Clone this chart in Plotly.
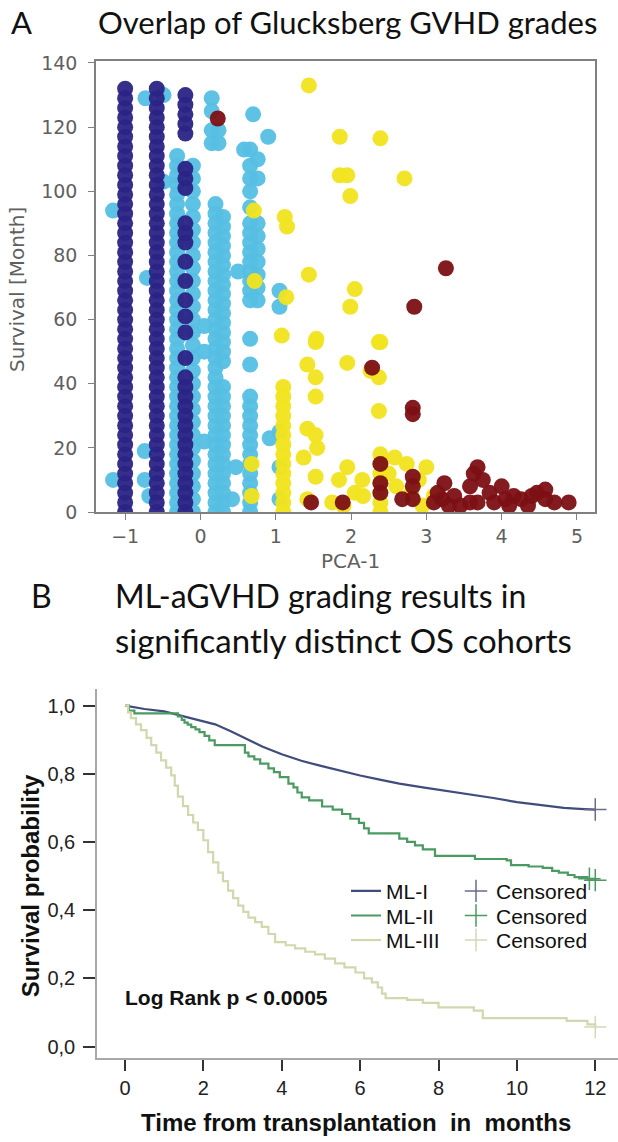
import plotly.graph_objects as go

W, H = 618, 1142

# ---------------- Panel A data (PCA-1 vs survival, by Glucksberg grade) ----------------
g1_cols_x = [-1.0, -0.58, -0.2]
g1_cols_y = [
    [0, 3, 6, 9, 12, 15, 18, 21, 24, 27, 30, 33, 36, 39, 42, 45, 48, 51, 54, 57, 60, 63, 66, 69, 72, 75, 78,
     81, 84, 87, 90, 93, 96, 99, 102, 105, 108, 111, 114, 117, 120, 123, 126, 129, 132],
    [0, 3, 6, 9, 12, 15, 18, 21, 24, 27, 30, 33, 36, 39, 42, 45, 48, 51, 54, 57, 60, 63, 66, 69, 72, 75, 78,
     81, 84, 87, 90, 93, 96, 99, 102, 105, 108, 111, 114, 117, 120, 123, 126, 129, 132],
    [0, 3, 6, 9, 12, 15, 18, 21, 24, 27, 30, 33, 36, 39, 42, 48, 56, 61, 66, 72, 78, 84, 87, 90, 101, 104,
     107, 118, 121, 124, 127, 130],
]

g2_cols_x = [-0.31, -0.1, 0.2, 0.3, 0.66, 0.76, 1.05]
g2_cols_y = [
    [0, 3, 6, 9, 12, 15, 18, 21, 24, 27, 30, 33, 36, 39, 42, 45, 48, 51, 54, 57, 60, 63, 66, 69, 72, 75, 78,
     81, 84, 87, 90, 93, 96, 99, 102, 105, 108, 111],
    [0, 4, 8, 12, 16, 20, 24, 28, 32, 36, 40, 44, 48, 52, 56, 60, 64, 68, 72, 76, 80, 84, 88, 92, 96, 100,
     104, 108],
    [0, 3, 6, 9, 12, 15, 18, 21, 24, 27, 30, 33, 36, 39, 42, 45, 48, 51, 54, 57, 60, 63, 66, 69, 72, 75, 78,
     81, 84, 87, 90, 93, 96],
    [0, 3, 6, 9, 12, 15, 18, 21, 24, 27, 30, 33, 36, 39, 47, 50, 53, 56, 59, 62, 65, 68, 71, 74, 77, 80, 83,
     86, 89, 92],
    [0, 3, 6, 9, 12, 15, 18, 21, 24, 27, 30, 33, 36, 46, 54, 66, 69, 72, 75, 78, 81, 84, 87, 90, 95, 100,
     104, 108, 113],
    [66, 70, 74, 78, 82, 86, 90, 104, 110],
    [4, 14, 25, 64, 69],
]
g2_extra_x = [-1.16, -1.16, -0.74, -0.74, -0.68, -0.71, -0.73, -0.49, -0.49, 0.15, 0.15, 0.15, 0.15, 0.24,
              0.24, 0.05, 0.05, 0.05, 0.47, 0.42, 0.92, 0.70, 0.90, 0.58, 0.5]
g2_extra_y = [94, 10, 19, 10, 5, 73, 129, 130, 103, 115, 119, 125, 129, 115, 119, 50, 22, 58, 14, 4, 23,
              124, 117, 113, 75]

g3_cols_x = [1.1, 2.39]
g3_cols_y = [
    [0, 3, 6, 9, 12, 15, 18, 21, 24, 27, 30, 33, 36, 39],
    [0, 3, 6, 9, 12, 15, 18],
]
g3_extra_x = [1.44, 1.85, 2.39, 1.85, 1.95, 2.71, 1.99, 1.44, 2.05, 1.99, 1.54, 2.39, 0.71, 0.72, 1.12,
              1.15, 1.14, 1.08, 1.42, 1.53, 1.53, 1.53, 1.42, 1.53, 1.37, 1.53, 1.42, 1.55, 1.95, 1.95,
              1.84, 2.05, 2.16, 2.37, 2.26, 2.37, 2.37, 2.58, 2.74, 3.0, 2.6, 2.8, 3.1, 2.95, 0.68, 0.68,
              1.9, 2.15, 1.75, 2.5, 2.9, 3.2]
g3_extra_y = [133, 117, 116.5, 105, 105, 104, 98.5, 74, 69.5, 64, 54, 53, 94, 72, 92, 89, 67, 55, 46, 53,
              42, 36, 26, 24, 17, 11, 4, 20, 46.5, 14, 10, 6, 5, 53, 44, 42, 31.5, 17, 15, 14, 8, 6, 5, 2,
              15, 5, 2, 10, 3, 12, 10, 4]

g4_x = [0.23, 3.26, 2.84, 2.82, 2.82, 2.28, 2.39, 2.39, 2.39, 2.82, 2.82, 2.82, 2.68, 1.47, 1.89, 3.24,
        3.21, 3.37, 3.58, 3.63, 3.68, 3.58, 3.84, 4.0, 4.05, 4.16, 4.26, 4.47, 4.58, 4.58, 4.89, 3.68, 3.1,
        3.45, 3.9, 4.35, 4.7, 3.3, 4.1, 4.4, 3.15, 3.75]
g4_y = [122.7, 76, 64, 32.5, 30.5, 45, 15, 9, 6, 11, 8, 4, 4, 3, 3, 9, 4, 5, 3, 12, 14, 8, 6, 8, 4, 5, 4,
        6, 7, 4, 3, 3, 3, 2, 3, 2, 3, 2, 2, 5, 6, 10]

grade_colors = ["#2b2385", "#55bfe3", "#f1e41e", "#7c1015"]

# ---------------- Panel B data (Kaplan-Meier) ----------------
ml1_t = [0, 0.5, 1.0, 1.5, 2.0, 2.3, 2.7, 3.15, 3.5, 4.0, 4.5, 5.0, 5.6, 6.0, 6.5, 7.0, 7.6, 8.2, 8.8,
         9.4, 10.0, 10.6, 11.2, 11.6, 12.0]
ml1_p = [1.0, 0.99, 0.983, 0.968, 0.953, 0.945, 0.925, 0.90, 0.88, 0.857, 0.838, 0.823, 0.805, 0.795,
         0.783, 0.771, 0.76, 0.75, 0.74, 0.729, 0.717, 0.708, 0.70, 0.697, 0.695]

ml2_t = [0, 0.1, 0.24, 1.35, 1.45, 1.52, 1.6, 1.69, 1.8, 1.9, 2.03, 2.15, 2.29, 3.06, 3.15, 3.3, 3.45,
         3.66, 3.8, 3.95, 4.17, 4.3, 4.4, 4.51, 4.7, 5.03, 5.3, 5.54, 5.75, 5.97, 6.1, 6.22, 7.0, 7.2, 7.4,
         7.6, 7.91, 8.93, 9.74, 9.85, 10.3, 10.66, 10.9, 11.07, 11.3, 11.47, 11.8, 12.0]
ml2_p = [1.0, 0.985, 0.977, 0.968, 0.958, 0.95, 0.944, 0.937, 0.93, 0.922, 0.911, 0.898, 0.884, 0.862,
         0.851, 0.842, 0.83, 0.816, 0.805, 0.79, 0.771, 0.76, 0.745, 0.731, 0.722, 0.704, 0.695, 0.682,
         0.668, 0.656, 0.64, 0.625, 0.61, 0.60, 0.59, 0.578, 0.559, 0.55, 0.546, 0.532, 0.528, 0.524,
         0.515, 0.51, 0.503, 0.497, 0.492, 0.488]

ml3_t = [0, 0.08, 0.15, 0.28, 0.41, 0.55, 0.67, 0.8, 0.92, 1.05, 1.18, 1.27, 1.35, 1.48, 1.61, 1.74, 1.86,
         2.0, 2.12, 2.25, 2.38, 2.5, 2.63, 2.76, 2.89, 3.02, 3.15, 3.32, 3.49, 3.66, 3.83, 4.1, 4.34, 4.6,
         4.85, 5.1, 5.36, 5.6, 5.88, 6.1, 6.3, 6.45, 6.56, 6.65, 7.2, 7.6, 8.0, 8.9, 9.13, 11.27, 11.8, 12.0]
ml3_p = [1.0, 0.98, 0.963, 0.945, 0.928, 0.905, 0.884, 0.862, 0.839, 0.818, 0.795, 0.765, 0.733, 0.705,
         0.679, 0.657, 0.635, 0.605, 0.57, 0.54, 0.51, 0.485, 0.457, 0.435, 0.413, 0.395, 0.378, 0.365,
         0.351, 0.33, 0.306, 0.297, 0.288, 0.278, 0.27, 0.258, 0.244, 0.232, 0.217, 0.2, 0.188, 0.173,
         0.155, 0.142, 0.137, 0.128, 0.115, 0.105, 0.083, 0.075, 0.065, 0.057]

cens_t = [[12.0], [11.85, 12.0], [12.0]]
cens_p = [[0.695], [0.492, 0.488], [0.057]]

ml_names = ["ML-I", "ML-II", "ML-III"]
ml_colors = ["#404c7c", "#4a9a62", "#cfd8ae"]
cens_colors = ["#6a6a8c", "#4a9a62", "#d2d9b6"]

x_ticks_a = [-1, 0, 1, 2, 3, 4, 5]
x_ticktext_a = ["\u22121", "0", "1", "2", "3", "4", "5"]
y_ticks_a = [0, 20, 40, 60, 80, 100, 120, 140]
x_ticks_b = [0, 2, 4, 6, 8, 10, 12]
y_ticks_b = [0.0, 0.2, 0.4, 0.6, 0.8, 1.0]
y_ticktext_b = ["0,0", "0,2", "0,4", "0,6", "0,8", "1,0"]


def px(x):
    return x / W


def py(y):
    return 1 - y / H


fig = go.Figure()


def expand(cols_x, cols_y):
    xs, ys = [], []
    for cx, cy in zip(cols_x, cols_y):
        xs += [cx] * len(cy)
        ys += cy
    return xs, ys


b_x, b_y = expand(g2_cols_x, g2_cols_y)
b_x += g2_extra_x
b_y += g2_extra_y
n_x, n_y = expand(g1_cols_x, g1_cols_y)
yl_x, yl_y = expand(g3_cols_x, g3_cols_y)
yl_x += g3_extra_x
yl_y += g3_extra_y

for xs, ys, c in [(b_x, b_y, grade_colors[1]), (n_x, n_y, grade_colors[0]),
                  (yl_x, yl_y, grade_colors[2]), (g4_x, g4_y, grade_colors[3])]:
    fig.add_trace(go.Scatter(x=xs, y=ys, mode="markers", xaxis="x", yaxis="y", showlegend=False,
                             marker=dict(size=16, color=c, opacity=0.95, line=dict(width=0))))

# Panel B curves
ml_t = [ml1_t, ml2_t, ml3_t]
ml_p = [ml1_p, ml2_p, ml3_p]
line_shapes = ["linear", "hv", "hv"]
ml_legends = ["legend", "legend2", "legend3"]
cens_legends = ["legend4", "legend5", "legend6"]
for i in range(3):
    fig.add_trace(go.Scatter(x=ml_t[i], y=ml_p[i], mode="lines", name=ml_names[i], xaxis="x2", yaxis="y2",
                             line=dict(color=ml_colors[i], width=2.2, shape=line_shapes[i]),
                             legend=ml_legends[i]))
for i in range(3):
    fig.add_trace(go.Scatter(x=cens_t[i], y=cens_p[i], mode="markers", name="Censored", xaxis="x2",
                             yaxis="y2", legend=cens_legends[i],
                             marker=dict(symbol="cross-thin", size=16, color=cens_colors[i],
                                         line=dict(width=1.5, color=cens_colors[i]))))

gray_font = dict(family="DejaVu Sans", size=19, color="#5f5f5f")
blk_font = dict(family="Liberation Sans, Arial", size=20, color="#222222")

# geometry (pixels)
A_top, A_bot = 53, 512
B_top, B_bot = 692, 1068

leg_common = dict(xanchor="left", yanchor="middle", bgcolor="rgba(0,0,0,0)",
                  font=dict(family="Liberation Sans, Arial", size=21, color="#111111"), itemwidth=30)
row_y = [898, 923, 948]
ml_leg_x = 346
cens_leg_x = 456

layout_legends = {}
for i in range(3):
    layout_legends[ml_legends[i]] = dict(x=px(ml_leg_x), y=py(row_y[i]), **leg_common)
    layout_legends[cens_legends[i]] = dict(x=px(cens_leg_x), y=py(row_y[i]), **leg_common)

fig.update_layout(
    width=W, height=H, margin=dict(l=0, r=0, t=0, b=0),
    paper_bgcolor="white", plot_bgcolor="white",
    xaxis=dict(domain=[px(96), px(595)], range=[-1.387, 5.24], anchor="y", tickvals=x_ticks_a,
               ticktext=x_ticktext_a,
               showgrid=False, zeroline=False, showline=True, mirror=True, linecolor="#808080", linewidth=1.5,
               ticks="outside", ticklen=6, tickcolor="#808080", tickfont=gray_font, ticklabelstandoff=0),
    yaxis=dict(domain=[py(A_bot), py(A_top)], range=[0, 140.6], anchor="x", tickvals=y_ticks_a,
               showgrid=False, zeroline=False, showline=True, mirror=True, linecolor="#808080", linewidth=1.5,
               ticks="outside", ticklen=6, tickcolor="#808080", tickfont=gray_font, ticklabelstandoff=7),
    xaxis2=dict(domain=[px(97), 1.0], range=[-0.714, 12.58], anchor="y2", tickvals=x_ticks_b,
                showgrid=False, zeroline=False, showline=True, linecolor="#a8a8a8", linewidth=1.5,
                ticks="outside", ticklen=11, tickwidth=1.5, tickcolor="#333333", tickfont=blk_font),
    yaxis2=dict(domain=[py(B_bot), py(B_top)], range=[-0.0346, 1.049], anchor="x2", tickvals=y_ticks_b,
                ticktext=y_ticktext_b, showgrid=False, zeroline=False, showline=True, linecolor="#a8a8a8",
                linewidth=1.5, ticks="outside", ticklen=12, tickwidth=1.5, tickcolor="#333333",
                tickfont=blk_font, ticklabelstandoff=4),
    **layout_legends,
)

titleA_font = dict(family="Lato", size=31, color="#111111")
titleB_font = dict(family="Lato", size=32, color="#111111")
titleB2_font = dict(family="Lato", size=33, color="#111111")
ann = [
    dict(text="A", x=px(21), y=py(13), xanchor="center", yanchor="middle", font=titleA_font),
    dict(text="Overlap of Glucksberg GVHD grades", x=px(96), y=py(13), xanchor="left", yanchor="middle",
         font=titleA_font),
    dict(text="B", x=px(41), y=py(597), xanchor="center", yanchor="middle", font=titleB_font),
    dict(text="ML-aGVHD grading results in", x=px(113), y=py(597), xanchor="left", yanchor="middle",
         font=titleB_font),
    dict(text="significantly distinct OS cohorts", x=px(113), y=py(642), xanchor="left", yanchor="middle",
         font=titleB2_font),
    dict(text="Survival [Month]", x=px(17), y=py(286), xanchor="center", yanchor="middle", textangle=-90,
         font=dict(family="DejaVu Sans", size=20, color="#5f5f5f")),
    dict(text="PCA-1", x=px(350), y=py(562), xanchor="center", yanchor="middle",
         font=dict(family="DejaVu Sans", size=20, color="#5f5f5f")),
    dict(text="<b>Survival probability</b>", x=px(30), y=py(893), xanchor="center", yanchor="middle",
         textangle=-90, font=dict(family="Liberation Sans, Arial", size=24, color="#111111")),
    dict(text="<b>Time from transplantation  in  months</b>", x=px(356), y=py(1133), xanchor="center",
         yanchor="middle", font=dict(family="Liberation Sans, Arial", size=24, color="#111111")),
    dict(text="<b>Log Rank p < 0.0005</b>", x=px(123), y=py(1006), xanchor="left", yanchor="middle",
         font=dict(family="Liberation Sans, Arial", size=21, color="#111111")),
]
for a in ann:
    a.update(xref="paper", yref="paper", showarrow=False)
fig.update_layout(annotations=ann)

fig.write_html("out.html", config={"displayModeBar": False},
               post_script="document.body.style.margin='0px';document.body.style.overflow='hidden';")
